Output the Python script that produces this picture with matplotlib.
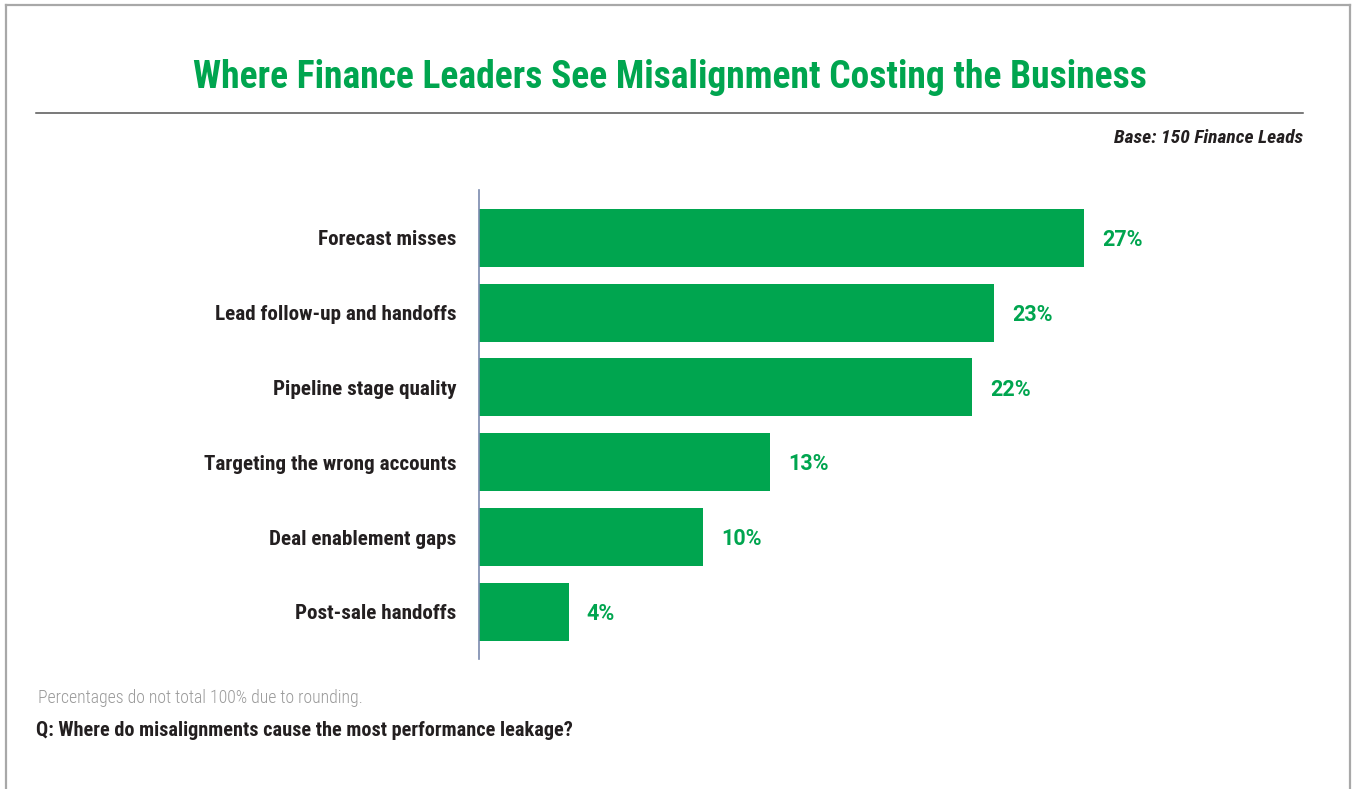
import matplotlib
matplotlib.use("Agg")
import matplotlib.pyplot as plt
from matplotlib.lines import Line2D

plt.rcParams["font.family"] = ["Roboto Condensed", "Barlow Semi Condensed", "DejaVu Sans"]

categories = ["Forecast misses", "Lead follow-up and handoffs", "Pipeline stage quality",
              "Targeting the wrong accounts", "Deal enablement gaps", "Post-sale handoffs"]
values = [27, 23, 22, 13, 10, 4]
value_labels = [f"{v}%" for v in values]

title = "Where Finance Leaders See Misalignment Costing the Business"
base_note = "Base: 150 Finance Leads"
footnote = "Percentages do not total 100% due to rounding."
question = "Q: Where do misalignments cause the most performance leakage?"

GREEN = "#00A54F"
DARK = "#231F20"

W, H = 1352, 789
fig = plt.figure(figsize=(W / 100, H / 100), dpi=100)


def fx(px):
    return px / W


def fy(py):
    return 1 - py / H


# outer frame (left, top, right)
frame_kw = dict(color="#A8A8A8", lw=1.6, transform=fig.transFigure)
fig.add_artist(Line2D([fx(6), fx(6)], [fy(5), 0], **frame_kw))
fig.add_artist(Line2D([fx(6), fx(1350)], [fy(5), fy(5)], **frame_kw))
fig.add_artist(Line2D([fx(1350), fx(1350)], [fy(5), 0], **frame_kw))

# title and rule
fig.text(fx(670), fy(77), title, ha="center", va="center", color=GREEN,
         fontsize=27, fontweight="bold")
fig.add_artist(Line2D([fx(36), fx(1303)], [fy(113), fy(113)], color="#555555",
                      lw=1.1, transform=fig.transFigure))
fig.text(fx(1303), fy(138), base_note, ha="right", va="center", color=DARK,
         fontsize=14, fontweight="bold", fontstyle="italic")

# bar chart
ax = fig.add_axes([fx(479), fy(659), fx(1300) - fx(479), (659 - 190) / H])
pos = list(range(len(categories)))
ax.barh(pos, values, height=0.775, color=GREEN, zorder=2)
ax.set_xlim(0, 821 / 22.4)
ax.set_ylim(5.63, -0.64)
ax.set_yticks(pos)
ax.set_yticklabels(categories, fontsize=15.2, fontweight="bold", color=DARK)
ax.tick_params(axis="y", length=0, pad=16.5)
ax.set_xticks([])
for side in ("top", "right", "bottom"):
    ax.spines[side].set_visible(False)
ax.spines["left"].set_color("#7A8AAE")
ax.spines["left"].set_linewidth(1.2)

for p, v, lab in zip(pos, values, value_labels):
    ax.annotate(lab, (v, p), xytext=(13, -1.5), textcoords="offset points",
                ha="left", va="center", color=GREEN, fontsize=15.5, fontweight="bold",
                family=["Roboto", "DejaVu Sans"])

# notes
fig.text(fx(38), fy(698), footnote, ha="left", va="center", color="#9A9A9A",
         fontsize=12.8, fontweight="light")
fig.text(fx(36), fy(731), question, ha="left", va="center", color=DARK,
         fontsize=14.6, fontweight="bold")

fig.savefig("out.png", dpi=100)
